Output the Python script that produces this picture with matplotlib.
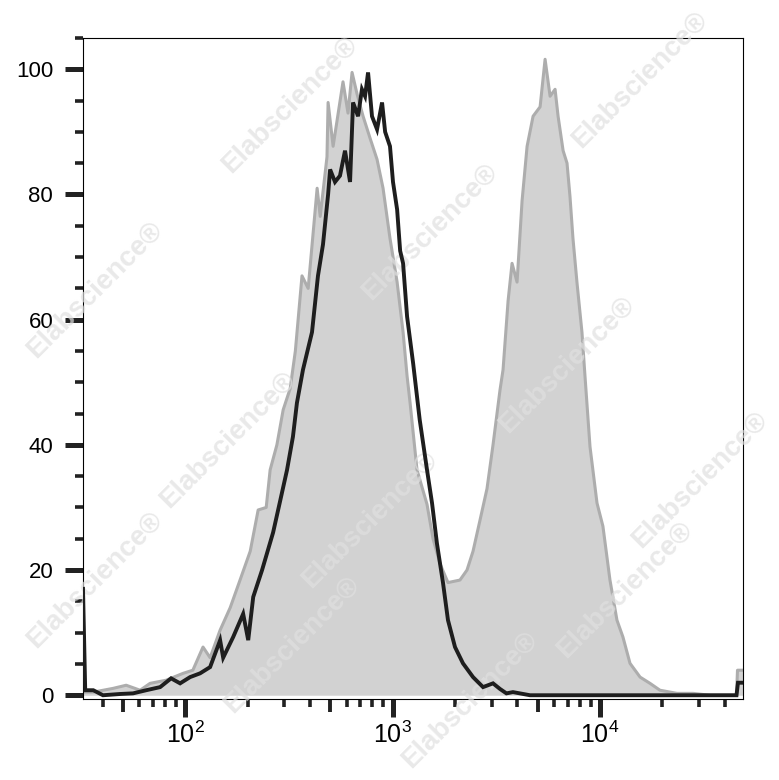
import numpy as np
import matplotlib.pyplot as plt
from matplotlib.ticker import FixedLocator, NullFormatter

plt.rcParams['font.family'] = ['Liberation Sans', 'DejaVu Sans']
plt.rcParams['mathtext.fontset'] = 'custom'
plt.rcParams['mathtext.rm'] = 'Liberation Sans'
plt.rcParams['mathtext.it'] = 'Liberation Sans'
plt.rcParams['mathtext.default'] = 'regular'

# stained sample (grey filled histogram)
stained_x = [32.2, 36.1, 45, 52, 60.7, 67.8, 81, 97.8, 109, 122,
             132, 147.5, 165, 184, 206, 225, 246, 257, 277, 297,
             321, 340, 366, 392, 433, 448, 483, 489, 517, 577,
             610, 638, 675, 721, 779, 842, 900, 972, 1052, 1124,
             1175, 1215, 1312, 1466, 1567, 1694, 1850, 2113, 2285, 2443,
             2641, 2853, 3050, 3297, 3409, 3605, 3767, 3983, 4211, 4452,
             4758, 5143, 5436, 5746, 6074, 6280, 6640, 6935, 7166, 7407,
             7742, 8185, 8465, 8950, 9673, 10330, 11170, 12070, 12900, 13950,
             15600, 17420, 19460, 23500, 28060, 33880, 45500, 46000, 48870]
stained_y = [0.5, 0.5, 1.1, 1.6, 0.8, 1.9, 2.4, 3.5, 4.0, 7.7,
             6.0, 10.4, 14.0, 18.4, 23.0, 29.6, 30.0, 36.0, 40.0, 45.6,
             49.0, 55.0, 67.0, 65.0, 81.0, 76.5, 86.0, 94.7, 87.7, 98.0,
             93.0, 99.5, 96.0, 92.5, 89.0, 85.6, 81.0, 73.0, 66.0, 58.0,
             51.0, 46.7, 36.0, 30.5, 25.0, 21.0, 18.0, 18.4, 20.0, 23.0,
             28.0, 33.0, 40.0, 48.8, 52.0, 63.0, 69.0, 66.0, 79.0, 87.7,
             92.5, 94.0, 101.6, 95.7, 96.8, 92.5, 87.0, 85.0, 79.7, 73.0,
             66.0, 58.0, 51.0, 39.7, 30.7, 27.0, 18.4, 12.0, 9.3, 5.1,
             2.9, 1.9, 0.8, 0.3, 0.3, 0.0, 0.0, 4.0, 4.0]

# isotype control (black line)
control_x = [32.2, 33.0, 36.1, 40.2, 48.6, 56.1, 64.9, 75.8, 85.6, 94.6,
             105.7, 118.1, 132, 147.5, 152.6, 170.5, 190.5, 201.5, 213, 235,
             265.6, 287, 310, 331, 346, 370, 409, 437, 462, 489,
             500, 528, 558, 590, 624, 645, 682, 712, 737, 762,
             796, 842, 890, 921, 972, 1005, 1052, 1088, 1124, 1175,
             1257, 1352, 1466, 1550, 1636, 1750, 1850, 2000, 2185, 2443,
             2730, 3050, 3297, 3540, 3805, 4600, 10000, 30000, 45500, 46240,
             48870]
control_y = [17, 0.8, 0.8, 0, 0.2, 0.3, 0.8, 1.3, 2.7, 1.9,
             2.9, 3.5, 4.5, 8.8, 6, 9.3, 13, 8.8, 15.7, 20,
             26, 31, 36, 41.3, 46.7, 52, 58, 67, 72, 80,
             84, 82, 83, 87, 82, 94.7, 92.5, 96.8, 95.7, 99.5,
             92.5, 90.4, 94.7, 90, 87.7, 82, 77.6, 71, 69, 60.5,
             53, 44, 36, 30.7, 24.3, 18, 12, 7.7, 5.1, 2.9,
             1.3, 1.9, 1, 0.3, 0.5, 0, 0, 0, 0, 2,
             2]

y_major = [0, 20, 40, 60, 80, 100]
y_minor = [5, 10, 15, 25, 30, 35, 45, 50, 55, 65, 70, 75, 85, 90, 95, 105]
x_major = [100, 1000, 10000]
x_labels = ['$10^{2}$', '$10^{3}$', '$10^{4}$']
x_minor = [40, 60, 70, 80, 90, 200, 300, 400, 600, 700, 800, 900,
           2000, 3000, 4000, 6000, 7000, 8000, 9000, 20000, 30000, 40000]
x_mid = [50, 500, 5000]

wm_text = 'Elabscience\u00ae'
wm_pos = [(290, 105), (640, 80), (430, 232), (95, 290), (567, 365),
          (228, 440), (700, 480), (370, 520), (292, 645), (625, 590),
          (95, 580), (470, 700)]

fig = plt.figure(figsize=(7.79, 7.80), dpi=100)
ax = fig.add_axes([83 / 779, 1 - 699 / 780, 660 / 779, 661 / 780])

ax.fill_between(stained_x, stained_y, 0, color='#d2d2d2', lw=0, zorder=1)
ax.plot(stained_x, stained_y, color='#adadad', lw=2.2, zorder=2)
ax.plot(control_x, control_y, color='#1e1e1e', lw=2.8, zorder=4,
        solid_joinstyle='miter')

ax.set_xscale('log')
ax.set_xlim(32.2, 48900)
ax.set_ylim(-0.6, 105)

ax.set_yticks(y_major)
ax.yaxis.set_minor_locator(FixedLocator(y_minor))
ax.set_xticks(x_major)
ax.set_xticklabels(x_labels)
ax.xaxis.set_minor_locator(FixedLocator(x_minor))
ax.xaxis.set_minor_formatter(NullFormatter())

ax.tick_params(axis='both', which='major', direction='out', length=13,
               width=3.6, color='#222222')
ax.tick_params(axis='y', which='major', pad=8.5, labelsize=16)
ax.tick_params(axis='x', which='major', pad=3, labelsize=18)
ax.tick_params(axis='both', which='minor', direction='out', length=5.5,
               width=2.6, color='#222222')

sec = ax.secondary_xaxis('bottom')
sec.set_xticks(x_mid)
sec.set_xticklabels(['', '', ''])
sec.xaxis.set_minor_locator(FixedLocator([]))
sec.tick_params(axis='x', which='major', direction='out', length=9,
                width=2.8, color='#222222')
sec.spines['bottom'].set_visible(False)

for s in ax.spines.values():
    s.set_linewidth(0.8)
    s.set_color('black')

for px, py in wm_pos:
    ax.text(px / 779, 1 - py / 780, wm_text, transform=fig.transFigure,
            rotation=45, fontsize=20, fontweight='bold', color='#e0e0e0',
            alpha=0.7, ha='center', va='center', zorder=3, clip_on=False)

fig.savefig('out.png', dpi=100)
